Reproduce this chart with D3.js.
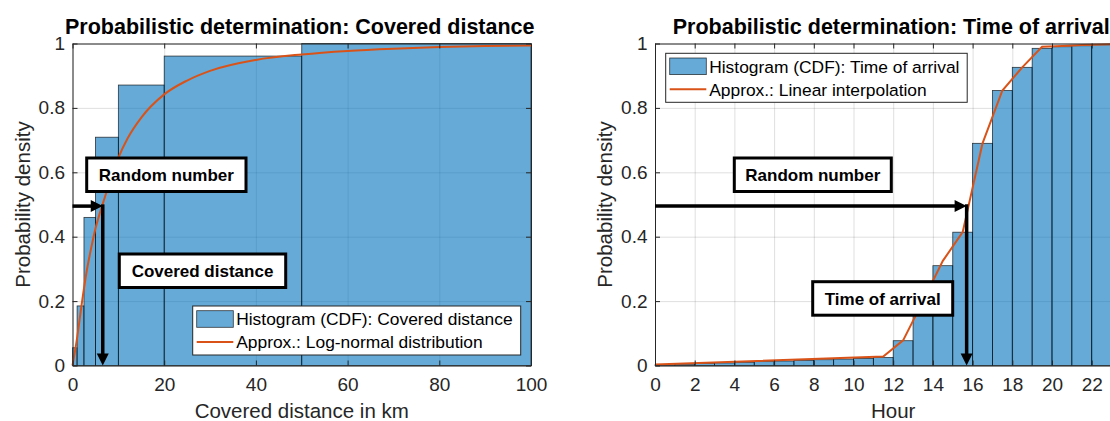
<!DOCTYPE html>
<html>
<head>
<meta charset="utf-8">
<script src="https://cdn.jsdelivr.net/npm/d3@7"></script>
<style>
  body { margin: 0; background: #fff; }
  svg { display: block; font-family: "Liberation Sans", Arial, sans-serif; }
</style>
</head>
<body>
<script>
// histogram CDF of covered distance (variable bin widths, km)
const distEdges = [0, 1, 2.5, 5, 10, 20, 50, 100];
const distCdf = [0.055, 0.185, 0.46, 0.709, 0.871, 0.961, 1.0];
// log-normal approximation
const distFitKm = [0, 1, 2, 3, 4, 5, 6, 7, 8, 10, 12, 15, 20, 25, 30, 40, 50, 60, 70, 80, 90, 100];
const distFitP = [0, 0.085, 0.19, 0.285, 0.36, 0.425, 0.475, 0.52, 0.565, 0.645, 0.705, 0.77,
                  0.842, 0.885, 0.915, 0.949, 0.966, 0.977, 0.984, 0.989, 0.992, 0.994];

// histogram CDF of arrival hour (1 h bins)
const hourEdges = [0, 1, 2, 3, 4, 5, 6, 7, 8, 9, 10, 11, 12, 13, 14, 15, 16, 17, 18, 19, 20, 21, 22, 23, 24];
const hourCdf = [0.002, 0.004, 0.006, 0.008, 0.010, 0.012, 0.014, 0.016, 0.018, 0.020, 0.022, 0.025,
                 0.077, 0.2, 0.31, 0.414, 0.69, 0.854, 0.926, 0.985, 0.99, 0.993, 0.996, 1.0];
// linear interpolation line
const hourFitH = [0, 11.5, 12.5, 13.5, 14.5, 15.5, 16.5, 17.5, 18.5, 19.5, 20.5, 21.5, 22.5, 23.5, 24];
const hourFitP = [0.003, 0.028, 0.078, 0.2, 0.325, 0.414, 0.69, 0.854, 0.926, 0.99, 0.992, 0.995, 0.997, 0.999, 1.0];

// random number drawn and resulting values
const randomNumber = 0.495;
const distPick = 6.6;
const hourPick = 15.7;

const distTicks = [0, 20, 40, 60, 80, 100];
const hourTicks = [0, 2, 4, 6, 8, 10, 12, 14, 16, 18, 20, 22];
const probTicks = [0, 0.2, 0.4, 0.6, 0.8, 1];
const probTickLabels = ['0', '0.2', '0.4', '0.6', '0.8', '1'];

const titles = ['Probabilistic determination: Covered distance', 'Probabilistic determination: Time of arrival'];
const xLabels = ['Covered distance in km', 'Hour'];
const yLabel = 'Probability density';
const legendLabels = [
  ['Histogram (CDF): Covered distance', 'Approx.: Log-normal distribution'],
  ['Histogram (CDF): Time of arrival', 'Approx.: Linear interpolation']
];
const boxLabels = [['Random number', 'Covered distance'], ['Random number', 'Time of arrival']];

const width = 1110;
const height = 421;
const plotTop = 43.5;
const plotBottom = 365.5;
const axisColor = '#262626';
const barColor = '#0072BD';
const lineColor = '#D95319';

const svg = d3.select('body')
              .append('svg')
                .attr('width', width)
                .attr('height', height);

const yScale = d3.scaleLinear()
                 .domain([0, 1])
                 .range([plotBottom, plotTop]);

function drawPanel(p) {
  const x = p.x;
  const [x0, x1] = x.range();
  const g = svg.append('g');

  // grid behind the semi transparent bars
  g.append('g')
    .attr('transform', `translate(0, ${plotBottom})`)
    .call(d3.axisBottom(x).tickValues(p.ticks).tickSize(-(plotBottom - plotTop)).tickFormat(''))
    .call(s => s.select('.domain').remove())
    .selectAll('line')
      .attr('stroke', axisColor)
      .attr('stroke-opacity', 0.15);

  g.append('g')
    .attr('transform', `translate(${x0}, 0)`)
    .call(d3.axisLeft(yScale).tickValues(probTicks).tickSize(-(x1 - x0)).tickFormat(''))
    .call(s => s.select('.domain').remove())
    .selectAll('line')
      .attr('stroke', axisColor)
      .attr('stroke-opacity', 0.15);

  // histogram bars
  g.selectAll('rect.bar')
    .data(p.cdf)
    .enter()
    .append('rect')
      .attr('class', 'bar')
      .attr('x', (d, i) => x(p.edges[i]))
      .attr('width', (d, i) => x(p.edges[i + 1]) - x(p.edges[i]))
      .attr('y', (d) => yScale(d))
      .attr('height', (d) => plotBottom - yScale(d))
      .attr('fill', barColor)
      .attr('fill-opacity', 0.6)
      .attr('stroke', '#000')
      .attr('stroke-opacity', 0.75)
      .attr('stroke-width', 0.8);

  // approximation line
  const line = d3.line()
                 .x((d, i) => x(p.fitX[i]))
                 .y((d) => yScale(d))
                 .curve(p.curve);

  g.append('path')
    .datum(p.fitY)
    .attr('d', line)
    .attr('fill', 'none')
    .attr('stroke', lineColor)
    .attr('stroke-width', 2);

  // axes box with inward ticks on all sides
  const styleAxis = (s) => {
    s.select('.domain').attr('stroke', axisColor).attr('stroke-width', 1);
    s.selectAll('.tick line').attr('stroke', axisColor).attr('stroke-width', 1);
    s.selectAll('text').attr('fill', axisColor).style('font-size', '19px');
  };

  g.append('g')
    .attr('transform', `translate(0, ${plotBottom})`)
    .call(d3.axisBottom(x).tickValues(p.ticks).tickSizeInner(-5).tickSizeOuter(0).tickPadding(12.5).tickFormat(d3.format('d')))
    .call(styleAxis);

  g.append('g')
    .attr('transform', `translate(0, ${plotTop})`)
    .call(d3.axisTop(x).tickValues(p.ticks).tickSizeInner(-5).tickSizeOuter(0).tickFormat(''))
    .call(styleAxis);

  g.append('g')
    .attr('transform', `translate(${x0}, 0)`)
    .call(d3.axisLeft(yScale).tickValues(probTicks).tickSizeInner(-5).tickSizeOuter(0).tickPadding(7.5)
            .tickFormat((d, i) => probTickLabels[i]))
    .call(styleAxis);

  g.append('g')
    .attr('transform', `translate(${x1}, 0)`)
    .call(d3.axisRight(yScale).tickValues(probTicks).tickSizeInner(-5).tickSizeOuter(0).tickFormat(''))
    .call(styleAxis);

  // titles and labels
  g.append('text')
    .text(p.title)
    .attr('x', (x0 + x1) / 2 - 2)
    .attr('y', 33.5)
    .style('text-anchor', 'middle')
    .style('font-size', '21.5px')
    .style('font-weight', 'bold')
    .attr('fill', '#000');

  g.append('text')
    .text(p.xLabel)
    .attr('x', (x0 + x1) / 2)
    .attr('y', 418)
    .style('text-anchor', 'middle')
    .style('font-size', '20.5px')
    .attr('fill', axisColor);

  g.append('text')
    .text(yLabel)
    .attr('transform', `translate(${x0 - 43}, ${(plotTop + plotBottom) / 2}) rotate(-90)`)
    .style('text-anchor', 'middle')
    .style('font-size', '20.5px')
    .attr('fill', axisColor);

  // legend
  const lg = p.legend;
  g.append('rect')
    .attr('x', lg.x)
    .attr('y', lg.y)
    .attr('width', lg.w)
    .attr('height', 49)
    .attr('fill', '#fff')
    .attr('stroke', axisColor)
    .attr('stroke-width', 1);

  g.append('rect')
    .attr('x', lg.x + 4)
    .attr('y', lg.y + 4.7)
    .attr('width', 36.6)
    .attr('height', 16.6)
    .attr('fill', barColor)
    .attr('fill-opacity', 0.6)
    .attr('stroke', '#000')
    .attr('stroke-opacity', 0.75)
    .attr('stroke-width', 0.8);

  g.append('line')
    .attr('x1', lg.x + 4)
    .attr('x2', lg.x + 40.6)
    .attr('y1', lg.y + 36)
    .attr('y2', lg.y + 36)
    .attr('stroke', lineColor)
    .attr('stroke-width', 2);

  g.selectAll('text.legend')
    .data(p.legendLabels)
    .enter()
    .append('text')
      .attr('class', 'legend')
      .text((d) => d)
      .attr('x', lg.x + 43.5)
      .attr('y', (d, i) => lg.y + 13.3 + i * 23)
      .attr('dy', '0.35em')
      .style('font-size', '17.4px')
      .attr('fill', '#000');

  // arrows: random number -> curve -> x value
  const ay = yScale(randomNumber);
  const ax = x(p.pick);
  const head = 12;

  g.append('line')
    .attr('x1', x0)
    .attr('x2', ax - head + 1)
    .attr('y1', ay)
    .attr('y2', ay)
    .attr('stroke', '#000')
    .attr('stroke-width', 3.5);

  g.append('path')
    .attr('d', `M${ax},${ay} L${ax - head},${ay - 6} L${ax - head},${ay + 6} Z`)
    .attr('fill', '#000');

  g.append('line')
    .attr('x1', ax)
    .attr('x2', ax)
    .attr('y1', ay - 1.75)
    .attr('y2', plotBottom - head + 1)
    .attr('stroke', '#000')
    .attr('stroke-width', 3.5);

  g.append('path')
    .attr('d', `M${ax},${plotBottom} L${ax - 6},${plotBottom - head} L${ax + 6},${plotBottom - head} Z`)
    .attr('fill', '#000');

  // text boxes
  p.boxes.forEach((b) => {
    g.append('rect')
      .attr('x', b.x)
      .attr('y', b.y)
      .attr('width', b.w)
      .attr('height', 33.5)
      .attr('fill', '#fff')
      .attr('stroke', '#000')
      .attr('stroke-width', 3);

    g.append('text')
      .text(b.label)
      .attr('x', b.x + b.w / 2)
      .attr('y', b.y + 17)
      .attr('dy', '0.35em')
      .style('text-anchor', 'middle')
      .style('font-size', '17px')
      .style('font-weight', 'bold')
      .attr('fill', '#000');
  });
}

const xDist = d3.scaleLinear()
                .domain([0, 100])
                .range([72.5, 531]);

const xHour = d3.scaleLinear()
                .domain([0, 24])
                .range([655, 1131.4]);

drawPanel({
  x: xDist,
  ticks: distTicks,
  edges: distEdges,
  cdf: distCdf,
  fitX: distFitKm,
  fitY: distFitP,
  curve: d3.curveMonotoneX,
  pick: distPick,
  title: titles[0],
  xLabel: xLabels[0],
  legendLabels: legendLabels[0],
  legend: { x: 192.7, y: 306, w: 328 },
  boxes: [
    { x: 86.7, y: 158, w: 159.3, label: boxLabels[0][0] },
    { x: 119.3, y: 254, w: 166.4, label: boxLabels[0][1] }
  ]
});

drawPanel({
  x: xHour,
  ticks: hourTicks,
  edges: hourEdges,
  cdf: hourCdf,
  fitX: hourFitH,
  fitY: hourFitP,
  curve: d3.curveLinear,
  pick: hourPick,
  title: titles[1],
  xLabel: xLabels[1],
  legendLabels: legendLabels[1],
  legend: { x: 665.7, y: 53.3, w: 301.5 },
  boxes: [
    { x: 734.3, y: 158, w: 157, label: boxLabels[1][0] },
    { x: 812.7, y: 281.7, w: 140, label: boxLabels[1][1] }
  ]
});
</script>
</body>
</html>
